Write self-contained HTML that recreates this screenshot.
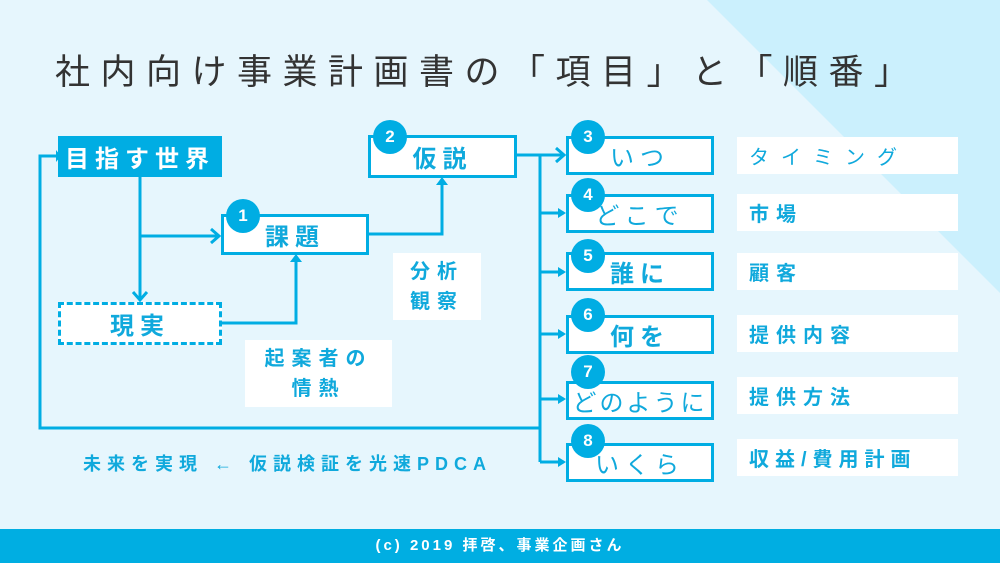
<!DOCTYPE html>
<html><head><meta charset="utf-8"><style>
*{margin:0;padding:0;box-sizing:border-box}
body{width:1000px;height:563px;position:relative;overflow:hidden;background:#e6f6fd;font-family:"Liberation Sans","Noto Sans CJK JP",sans-serif}
.a{position:absolute}
.box{position:absolute;border:3px solid #00ade3;background:#fff;color:#10a9dc;font-weight:bold;display:flex;align-items:center;justify-content:center;font-size:24px;letter-spacing:6px}
.c{position:absolute;width:34px;height:34px;border-radius:50%;background:#00ade3;color:#fff;font-weight:bold;font-size:17px;text-align:center;line-height:34px}
.lab{position:absolute;background:#fff;color:#10a9dc;font-weight:bold;font-size:20px;letter-spacing:7px;display:flex;align-items:center;padding-left:12px}
</style></head><body>
<svg class="a" style="left:0;top:0" width="1000" height="563">
<polygon points="707,0 1000,0 1000,293" fill="#cbf0fd"/>
<g stroke="#00ade3" stroke-width="3" fill="none">
<polyline points="140,177 140,300"/>
<polyline points="140,236 219,236"/>
<polyline points="222,323 296,323 296,257"/>
<polyline points="369,234 442,234 442,180"/>
<polyline points="517,155 564,155"/>
<polyline points="540,155 540,462"/>
<polyline points="540,213 564,213"/><polyline points="540,272 564,272"/><polyline points="540,334 564,334"/><polyline points="540,399 564,399"/><polyline points="540,462 564,462"/>
<polyline points="540,428 40,428 40,156 56,156"/>
<polyline points="133,292 140,300 147,292"/>
<polyline points="211,229 219,236 211,243"/>
<polyline points="556,148 564,155 556,162"/>
</g>
<g fill="#00ade3">
<polygon points="290,262 296,254 302,262"/>
<polygon points="436,185 442,177 448,185"/>
<polygon points="56,150 56,162 61,156"/>
<polygon points="558,208 558,218 566,213"/><polygon points="558,267 558,277 566,272"/><polygon points="558,329 558,339 566,334"/><polygon points="558,394 558,404 566,399"/><polygon points="558,457 558,467 566,462"/>
</g>
</svg>
<div class="a" style="left:55px;top:44px;font-size:35px;letter-spacing:10.5px;color:#333;white-space:nowrap">社内向け事業計画書の「項目」と「順番」</div>

<div class="box" style="left:58px;top:136px;width:164px;height:41px;background:#00ade3;border-color:#00ade3;color:#fff">目指す世界</div>
<div class="box" style="left:58px;top:302px;width:164px;height:43px;border-style:dashed">現実</div>
<div class="box" style="left:221px;top:214px;width:148px;height:41px">課題</div>
<div class="c" style="left:226px;top:199px">1</div>
<div class="box" style="left:368px;top:135px;width:149px;height:43px">仮説</div>
<div class="c" style="left:373px;top:120px">2</div>

<div class="lab" style="left:393px;top:253px;width:88px;height:67px;padding-left:0;justify-content:center;text-align:center;line-height:30px">分析<br>観察</div>
<div class="lab" style="left:245px;top:340px;width:147px;height:67px;padding-left:0;justify-content:center;text-align:center;line-height:30px">起案者の<br>情熱</div>

<div class="box" style="left:566px;top:136px;width:148px;height:39px;font-weight:normal">いつ</div>
<div class="c" style="left:571px;top:120px">3</div>
<div class="box" style="left:566px;top:194px;width:148px;height:39px;font-weight:normal">どこで</div>
<div class="c" style="left:571px;top:178px">4</div>
<div class="box" style="left:566px;top:252px;width:148px;height:39px">誰に</div>
<div class="c" style="left:571px;top:239px">5</div>
<div class="box" style="left:566px;top:315px;width:148px;height:39px">何を</div>
<div class="c" style="left:571px;top:298px">6</div>
<div class="box" style="left:566px;top:381px;width:148px;height:39px;font-weight:normal;letter-spacing:3px">どのように</div>
<div class="c" style="left:571px;top:355px">7</div>
<div class="box" style="left:566px;top:443px;width:148px;height:39px;font-weight:normal">いくら</div>
<div class="c" style="left:571px;top:424px">8</div>

<div class="lab" style="left:737px;top:137px;width:221px;height:37px;font-weight:normal;letter-spacing:12px">タイミング</div>
<div class="lab" style="left:737px;top:194px;width:221px;height:37px">市場</div>
<div class="lab" style="left:737px;top:253px;width:221px;height:37px">顧客</div>
<div class="lab" style="left:737px;top:315px;width:221px;height:37px">提供内容</div>
<div class="lab" style="left:737px;top:377px;width:221px;height:37px">提供方法</div>
<div class="lab" style="left:737px;top:439px;width:221px;height:37px;letter-spacing:6px">収益/費用計画</div>

<div class="a" style="left:83px;top:450px;font-size:18px;font-weight:bold;color:#10a9dc;letter-spacing:6px;white-space:nowrap">未来を実現 ← 仮説検証を光速PDCA</div>

<div class="a" style="left:0;top:529px;width:1000px;height:34px;background:#00aee2;color:#fff;font-weight:bold;font-size:15px;letter-spacing:3px;text-align:center;line-height:34px">(c) 2019 拝啓、事業企画さん</div>
</body></html>
